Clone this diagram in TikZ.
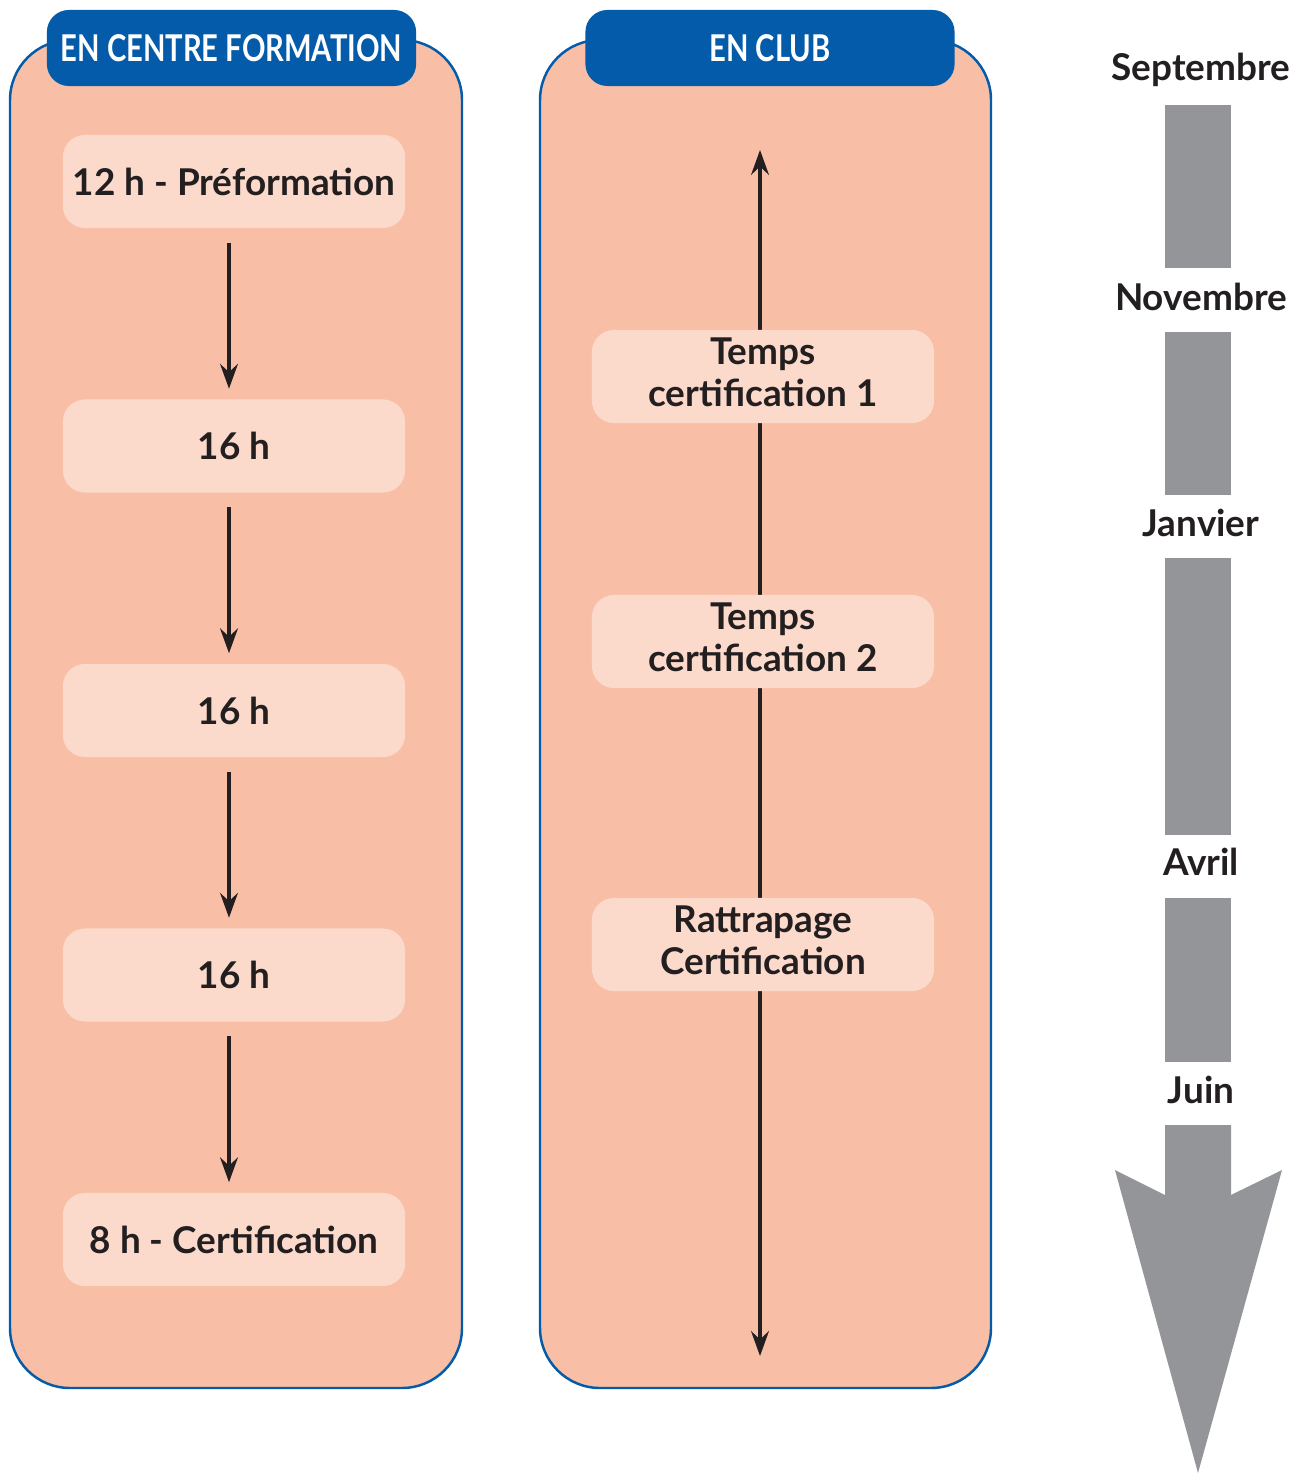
\documentclass[tikz,border=0pt]{standalone}
\usepackage{fontspec}
\setmainfont{Lato}
\newfontfamily\headfont[FakeStretch=0.79]{Lato}
\usetikzlibrary{arrows.meta}
\definecolor{panelfill}{HTML}{F8BEA6}
\definecolor{boxfill}{HTML}{FCDACB}
\definecolor{clubblue}{HTML}{035BA9}
\definecolor{monthgray}{HTML}{939598}
\definecolor{ink}{HTML}{231F20}
\tikzset{
  panel/.style={draw=clubblue,line width=0.7pt,fill=panelfill,rounded corners=0.6cm},
  header/.style={fill=clubblue,rounded corners=0.22cm,minimum width=3.69cm,minimum height=0.76cm,
    text=white,font=\headfont\bfseries\fontsize{10.5}{12}\selectfont,inner sep=0pt},
  stepbox/.style={fill=boxfill,rounded corners=0.22cm,minimum width=3.42cm,minimum height=0.93cm,
    text=ink,font=\bfseries\fontsize{10.5}{12}\selectfont,align=center,inner sep=0pt},
  flow/.style={draw=ink,line width=1.2pt,-{Stealth[length=7pt,width=5pt]}},
  month/.style={text=ink,font=\bfseries\fontsize{10.5}{12}\selectfont,inner sep=0pt},
  bar/.style={fill=monthgray}
}
\begin{document}
\begin{tikzpicture}[x=0.01cm,y=-0.01cm]
  \useasboundingbox (0,0) rectangle (1306,1473);

  % en centre formation
  \draw[panel] (10,40) rectangle (462,1388);
  \node[header] (hcentre) at (231.5,48) {EN CENTRE FORMATION};
  \node[stepbox] (b1) at (234,181.5) {12 h - Préformation};
  \node[stepbox] (b2) at (234,446) {16 h};
  \node[stepbox] (b3) at (234,710.5) {16 h};
  \node[stepbox] (b4) at (234,975) {16 h};
  \node[stepbox] (b5) at (234,1239.5) {8 h - Certification};
  \coordinate (ax) at (229,0);
  \foreach \a/\b in {b1/b2,b2/b3,b3/b4,b4/b5}
    \draw[flow,shorten <=0.14cm,shorten >=0.1cm] (\a.south-|ax) -- (\b.north-|ax);

  % en club
  \draw[panel] (540,40) rectangle (991,1388);
  \node[header] (hclub) at (770,48) {EN CLUB};
  \coordinate (ctop) at (760,150);
  \coordinate (cbot) at (760,1356);
  \draw[flow,{Stealth[length=7pt,width=5pt]}-{Stealth[length=7pt,width=5pt]}] (ctop) -- (cbot);
  \node[stepbox,text depth=0.08cm] (c1) at (763,376.5) {Temps\\certification 1};
  \node[stepbox,text depth=0.08cm] (c2) at (763,641.5) {Temps\\certification 2};
  \node[stepbox,text depth=0.08cm] (c3) at (763,944.5) {Rattrapage\\Certification};

  % mois
  \fill[bar] (1165,105) rectangle (1231,268);
  \fill[bar] (1165,332) rectangle (1231,495);
  \fill[bar] (1165,558) rectangle (1231,835);
  \fill[bar] (1165,898) rectangle (1231,1062);
  \fill[bar] (1165,1125) -- (1231,1125) -- (1231,1195) -- (1282,1170) -- (1198,1473)
    -- (1115,1170) -- (1165,1195) -- cycle;
  \node[month] (sep) at (1201,70) {Septembre};
  \node[month] (nov) at (1201,297) {Novembre};
  \node[month] (jan) at (1201,523) {Janvier};
  \node[month] (avr) at (1201,862) {Avril};
  \node[month] (jui) at (1201,1090) {Juin};
\end{tikzpicture}
\end{document}
